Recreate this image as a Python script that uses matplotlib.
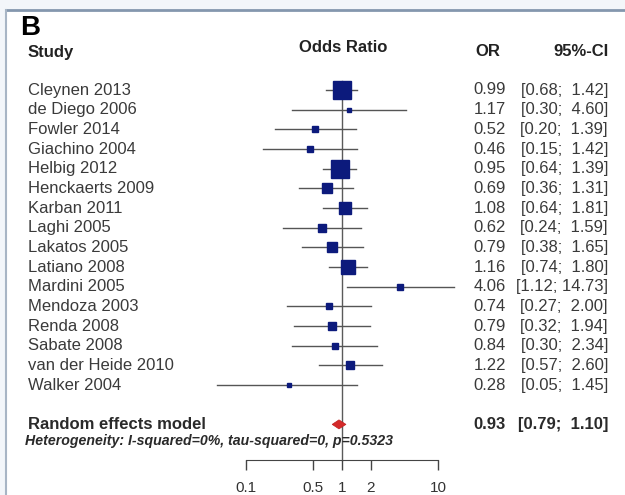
import numpy as np
import matplotlib.pyplot as plt
import matplotlib.transforms as mtransforms
from matplotlib.patches import Polygon, Rectangle
from matplotlib.lines import Line2D
from matplotlib.ticker import NullLocator

plt.rcParams['font.family'] = ['Liberation Sans', 'DejaVu Sans']

# study-level odds ratios with 95% confidence limits
studies = ['Cleynen 2013', 'de Diego 2006', 'Fowler 2014', 'Giachino 2004',
           'Helbig 2012', 'Henckaerts 2009', 'Karban 2011', 'Laghi 2005',
           'Lakatos 2005', 'Latiano 2008', 'Mardini 2005', 'Mendoza 2003',
           'Renda 2008', 'Sabate 2008', 'van der Heide 2010', 'Walker 2004']
odds = [0.99, 1.17, 0.52, 0.46, 0.95, 0.69, 1.08, 0.62,
        0.79, 1.16, 4.06, 0.74, 0.79, 0.84, 1.22, 0.28]
lower = [0.68, 0.30, 0.20, 0.15, 0.64, 0.36, 0.64, 0.24,
         0.38, 0.74, 1.12, 0.27, 0.32, 0.30, 0.57, 0.05]
upper = [1.42, 4.60, 1.39, 1.42, 1.39, 1.31, 1.81, 1.59,
         1.65, 1.80, 14.73, 2.00, 1.94, 2.34, 2.60, 1.45]

# pooled estimate
pooled_label = 'Random effects model'
pooled_or = 0.93
pooled_lo = 0.79
pooled_hi = 1.10
het_text = 'Heterogeneity: I-squared=0%, tau-squared=0, p=0.5323'

xticks = [0.1, 0.5, 1, 2, 10]
xtick_labels = ['0.1', '0.5', '1', '2', '10']

W, H = 625, 495
fx = lambda x: x / W
fy = lambda y: 1 - y / H

fig = plt.figure(figsize=(6.25, 4.95), dpi=100)
fig.patch.set_facecolor('#f3f6fa')

# white panel with a thin frame on top and left
fig.patches.append(Rectangle((fx(6), 0), 1 - fx(6), fy(10), transform=fig.transFigure,
                             facecolor='white', edgecolor='none', zorder=-10))
fig.lines.append(Line2D([fx(6), 1], [fy(10), fy(10)], transform=fig.transFigure,
                        color='#8497ae', lw=2, zorder=-5))
fig.lines.append(Line2D([fx(6), fx(6)], [0, fy(10)], transform=fig.transFigure,
                        color='#a8b5c5', lw=1.5, zorder=-5))

# forest axes: log odds ratio, one row per study
row0, row_h = 90, 19.67
y_bottom_px = 460
y_top = -1
y_bottom = (y_bottom_px - row0) / row_h
ax = fig.add_axes([fx(246), fy(y_bottom_px), fx(438) - fx(246),
                   (y_bottom_px - (row0 + row_h * y_top)) / H])
ax.set_xscale('log')
ax.set_xlim(0.1, 10)
ax.set_ylim(y_bottom, y_top)
ax.patch.set_alpha(0)
for s in ['left', 'top', 'right']:
    ax.spines[s].set_visible(False)
ax.spines['bottom'].set_color('#444444')
ax.set_yticks([])
ax.set_xticks(xticks)
ax.set_xticklabels(xtick_labels)
ax.xaxis.set_minor_locator(NullLocator())
ax.tick_params(axis='x', direction='out', length=7, width=1, color='#444444',
               labelsize=11, labelcolor='#333333', pad=8)

# reference line at OR = 1
ax.plot([1, 1], [-0.45, y_bottom], color='#5a5a5a', lw=1, clip_on=False, zorder=1)

odds = np.array(odds)
lower = np.array(lower)
upper = np.array(upper)
se = (np.log(upper) - np.log(lower)) / (2 * 1.96)
weight = 1 / se ** 2
side_px = 3.4 * np.sqrt(weight)

rows = np.arange(len(studies))
for i in rows:
    ax.plot([lower[i], upper[i]], [i, i], color='#555555', lw=1, clip_on=False, zorder=2)
    ax.plot(odds[i], i, marker='s', ms=side_px[i] * 0.72, color='#0c1a7c',
            mec='#0c1a7c', clip_on=False, zorder=3)

pooled_row = len(studies) + 1
dh = 0.23
ax.add_patch(Polygon([(pooled_lo, pooled_row), (pooled_or, pooled_row - dh),
                      (pooled_hi, pooled_row), (pooled_or, pooled_row + dh)],
                     closed=True, facecolor='#d42a2a', edgecolor='#c02020',
                     lw=0.5, clip_on=False, zorder=3))

# text columns
tr = mtransforms.blended_transform_factory(fig.transFigure, ax.transData)
txt_color = '#3a3a3a'
for i in rows:
    ax.text(fx(28), i, studies[i], transform=tr, ha='left', va='center',
            fontsize=12, color=txt_color)
    ax.text(fx(506), i, f'{odds[i]:.2f}', transform=tr, ha='right', va='center',
            fontsize=12, color=txt_color)
    ax.text(fx(608), i, f'[{lower[i]:.2f}; {upper[i]:>5.2f}]', transform=tr,
            ha='right', va='center', fontsize=12, color=txt_color)

ax.text(fx(28), pooled_row, pooled_label, transform=tr, ha='left', va='center',
        fontsize=12, fontweight='bold', color='#2a2a2a')
ax.text(fx(506), pooled_row, f'{pooled_or:.2f}', transform=tr, ha='right', va='center',
        fontsize=12, fontweight='bold', color='#2a2a2a')
ax.text(fx(608), pooled_row, f'[{pooled_lo:.2f}; {pooled_hi:>5.2f}]', transform=tr,
        ha='right', va='center', fontsize=12, fontweight='bold', color='#2a2a2a')

fig.text(fx(25), fy(441), het_text, ha='left', va='center', fontsize=10.2,
         fontweight='bold', fontstyle='italic', color='#2a2a2a')

# headers
fig.text(fx(20), fy(28), 'B', ha='left', va='center', fontsize=20,
         fontweight='bold', color='black')
fig.text(fx(28), fy(52), 'Study', ha='left', va='center', fontsize=12,
         fontweight='bold', color='#222222')
fig.text(fx(343), fy(48), 'Odds Ratio', ha='center', va='center', fontsize=12,
         fontweight='bold', color='#222222')
fig.text(fx(488), fy(52), 'OR', ha='center', va='center', fontsize=12,
         fontweight='bold', color='#222222')
fig.text(fx(609), fy(52), '95%-CI', ha='right', va='center', fontsize=12,
         fontweight='bold', color='#222222')

fig.savefig('out.png', dpi=100, facecolor=fig.get_facecolor())
